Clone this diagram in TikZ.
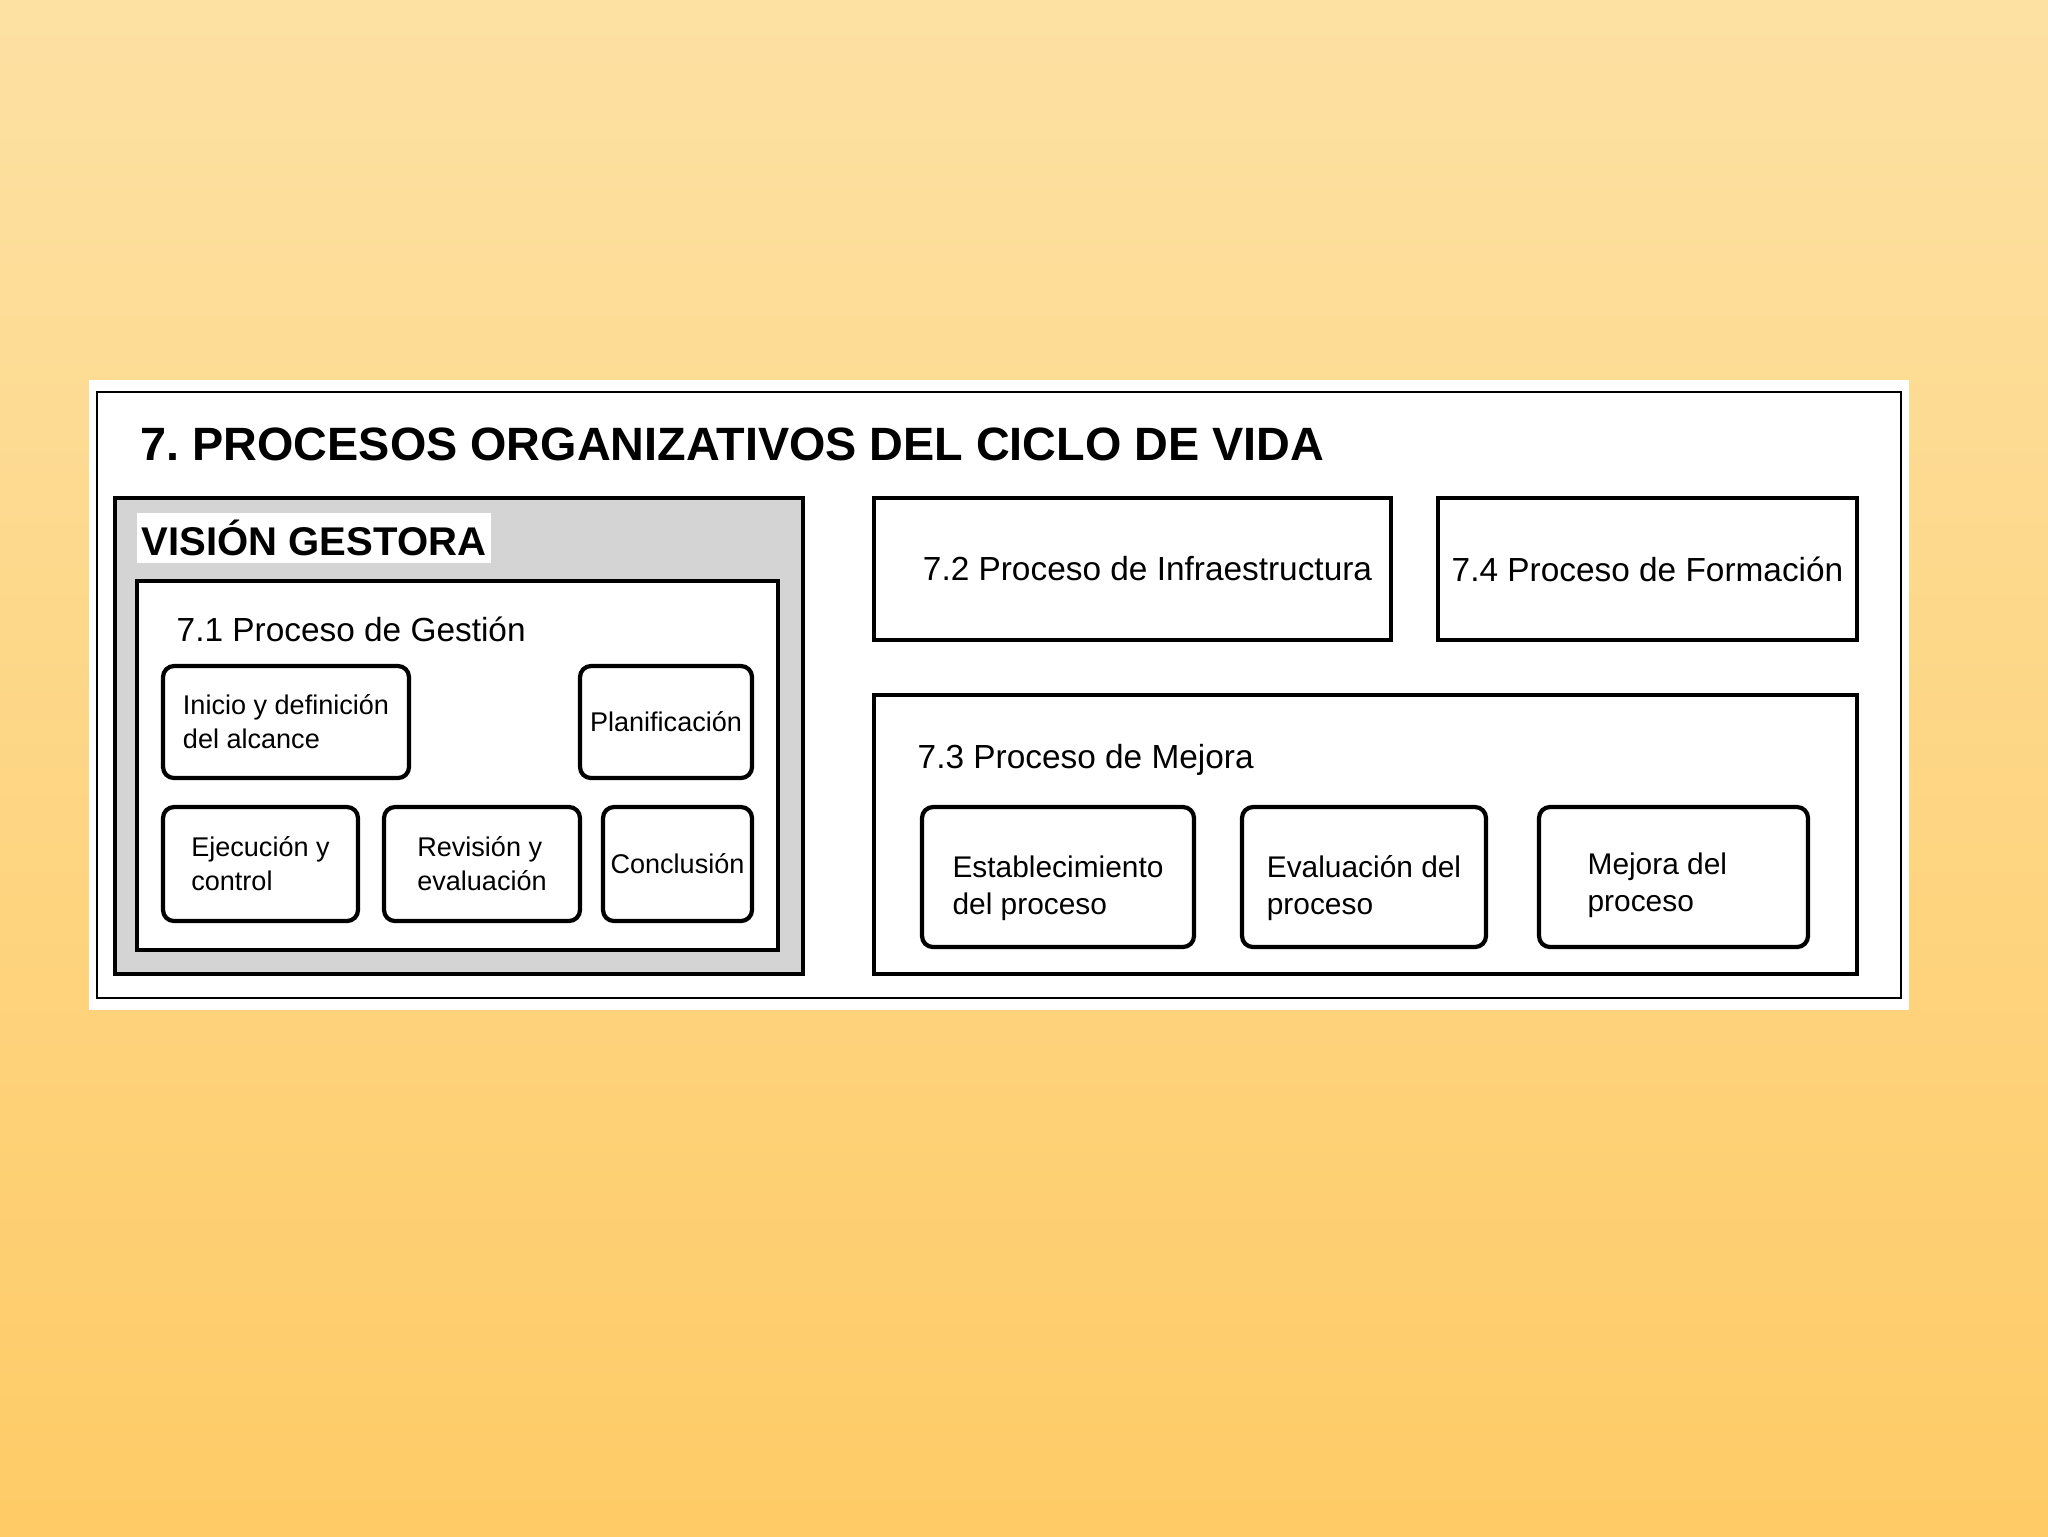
\documentclass[tikz,border=0pt]{standalone}
\usepackage{fontspec}
\setmainfont{Liberation Sans}
\usetikzlibrary{positioning}

\definecolor{fondoarriba}{HTML}{FDE1A3}
\definecolor{fondoabajo}{HTML}{FECB66}
\definecolor{trama}{HTML}{D4D4D4}

\tikzset{
  bloque/.style={draw, line width=1.1pt, inner sep=0pt, fill=white},
  tarea/.style={draw, line width=1.2pt, rounded corners=1.1mm, inner sep=0pt, align=left, fill=white},
  chica/.style={font=\fontsize{7.7}{9.7}\selectfont},
  media/.style={font=\fontsize{8.5}{10.4}\selectfont, align=left, inner sep=0pt},
  rotulo/.style={font=\fontsize{9.5}{11}\selectfont, inner sep=0pt}
}

\begin{document}
\frenchspacing
\begin{tikzpicture}[x=0.1mm, y=-0.1mm]
    \useasboundingbox (0,0) rectangle (2048,1536);
    \shade[top color=fondoarriba, bottom color=fondoabajo] (0,0) rectangle (2048,1536);

    % panel blanco
    \fill[white] (89,380) rectangle (1909,1010);
    \node[draw, line width=0.7pt, inner sep=0pt, minimum width=180.4mm, minimum height=60.6mm] (marco) at (999,695) {};
    \node[anchor=base west, inner sep=0pt, font=\bfseries\fontsize{13.3}{16}\selectfont] (titulo) at (140,460)
        {7. PROCESOS ORGANIZATIVOS DEL CICLO DE VIDA};

    % vision gestora
    \node[bloque, fill=trama, minimum width=68.8mm, minimum height=47.6mm] (gestora) at (459,736) {};
    \node[anchor=north west, fill=white, inner xsep=0.5mm, inner ysep=0pt, minimum height=5mm,
          font=\bfseries\fontsize{11.4}{13}\selectfont] (vision) at (136,512) {VISIÓN GESTORA};
    \node[bloque, minimum width=64.1mm, minimum height=36.9mm] (gestion) at (457.5,765.5) {};
    \node[rotulo, anchor=base west] (gestiont) at (176,641) {7.1 Proceso de Gestión};

    \node[tarea, chica, minimum width=24.6mm, minimum height=11.2mm] (inicio) at (286,722) {Inicio y definición\\del alcance};
    \node[tarea, chica, minimum width=17.2mm, minimum height=11.2mm] (planif) at (666,722) {Planificación};
    \node[tarea, chica, minimum width=19.5mm, minimum height=11.4mm] (ejec) at (260.5,864) {Ejecución y\\control};
    \node[tarea, chica, minimum width=19.6mm, minimum height=11.4mm] (revis) at (482,864) {Revisión y\\evaluación};
    \node[tarea, chica, minimum width=14.9mm, minimum height=11.4mm] (concl) at (677.5,864) {Conclusión};

    % otros procesos
    \node[bloque, rotulo, minimum width=51.7mm, minimum height=14.2mm] (infra) at (1132.5,569) {\hspace{3mm}7.2 Proceso de Infraestructura};
    \node[bloque, rotulo, minimum width=41.9mm, minimum height=14.2mm] (formacion) at (1647.5,569) {7.4 Proceso de Formación};

    \node[bloque, minimum width=98.3mm, minimum height=27.9mm] (mejora) at (1365.5,834.5) {};
    \node[rotulo, anchor=base west] (mejorat) at (917,768) {7.3 Proceso de Mejora};

    \node[tarea, minimum width=27.2mm, minimum height=14mm] (estab) at (1058,877) {};
    \node[tarea, minimum width=24.4mm, minimum height=14mm] (evalua) at (1364,877) {};
    \node[tarea, minimum width=26.9mm, minimum height=14mm] (mejorap) at (1673.5,877) {};
    \node[media] (estabt) at ([yshift=-1.1mm]estab.center) {Establecimiento\\del proceso};
    \node[media] (evaluat) at ([yshift=-1.1mm]evalua.center) {Evaluación del\\proceso};
    \node[media, anchor=west] (mejorapt) at ([xshift=5mm, yshift=-0.8mm]mejorap.west) {Mejora del\\proceso};

\end{tikzpicture}
\end{document}
